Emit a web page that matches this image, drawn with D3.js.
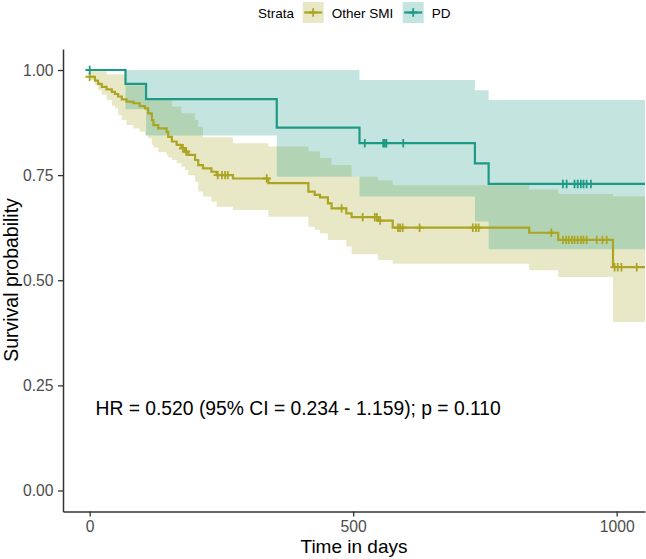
<!DOCTYPE html>
<html>
<head>
<meta charset="utf-8">
<script src="https://cdn.jsdelivr.net/npm/d3@7/dist/d3.min.js"></script>
<style>
  html, body { margin: 0; padding: 0; background: #fff; }
  svg { display: block; font-family: "Liberation Sans", Arial, Helvetica, sans-serif; }
</style>
</head>
<body>
<svg id="chart" width="646" height="559"></svg>
<script>
// ---------- DATA ----------
const strata = ["Other SMI", "PD"];
const strataColors = ["#ABA523", "#1C9A85"];

// Other SMI (olive)
const smiTime  = [0, 10, 16, 23, 32, 42, 48, 54, 61, 70, 83, 95, 105, 111, 118, 121, 130, 146, 149, 156,
                  165, 174, 181, 187, 200, 206, 215, 231, 241, 272, 339, 415, 427, 437, 452, 459, 487, 497, 547, 575,
                  834, 889, 993];
const smiSurv  = [0.984, 0.975, 0.967, 0.960, 0.954, 0.948, 0.943, 0.937, 0.930, 0.925, 0.921, 0.914, 0.909, 0.897, 0.881, 0.869, 0.861, 0.853, 0.841, 0.830,
                  0.822, 0.814, 0.806, 0.798, 0.786, 0.774, 0.766, 0.758, 0.750, 0.742, 0.731, 0.711, 0.703, 0.697, 0.683, 0.671, 0.659, 0.650, 0.642, 0.625,
                  0.613, 0.596, 0.531];
const smiUpper = [1.0, 1.0, 1.0, 1.0, 0.99, 0.99, 0.99, 0.99, 0.99, 0.964, 0.964, 0.964, 0.929, 0.929, 0.929, 0.929, 0.929, 0.929, 0.929, 0.913,
                  0.913, 0.897, 0.897, 0.897, 0.881, 0.865, 0.840, 0.840, 0.840, 0.826, 0.818, 0.807, 0.807, 0.791, 0.791, 0.774, 0.774, 0.746, 0.738, 0.726,
                  0.716, 0.705, 0.700];
const smiLower = [0.976, 0.964, 0.952, 0.941, 0.929, 0.915, 0.909, 0.893, 0.881, 0.869, 0.861, 0.853, 0.845, 0.838, 0.822, 0.816, 0.805, 0.798, 0.792, 0.786,
                  0.778, 0.770, 0.762, 0.750, 0.734, 0.711, 0.699, 0.687, 0.675, 0.667, 0.651, 0.627, 0.620, 0.612, 0.596, 0.596, 0.580, 0.562, 0.548, 0.539,
                  0.524, 0.508, 0.401];
const smiCensor = [0, 177, 183, 243, 251, 257, 262, 336, 478, 518, 541, 545, 551, 585, 589, 594, 626, 727, 733, 738,
                   876, 898, 904, 909, 915, 920, 926, 932, 937, 943, 962, 973, 981, 996, 1002, 1009, 1038];

// PD (teal)
const pdTime   = [0, 68, 107, 355, 512, 731, 757];
const pdSurv   = [1.0, 0.967, 0.931, 0.863, 0.826, 0.778, 0.729];
const pdUpper  = [1.0, 1.0, 1.0, 1.0, 0.976, 0.952, 0.929];
const pdLower  = [1.0, 0.907, 0.844, 0.746, 0.699, 0.640, 0.574];
const pdCensor = [0, 522, 557, 560, 563, 595, 898, 905, 920, 926, 932, 937, 943, 951];

const followUpEnd = 1060;

const xTicks = [0, 500, 1000];
const yTicks = [0, 0.25, 0.5, 0.75, 1.0];
const xTitle = "Time in days";
const yTitle = "Survival probability";
const legendTitle = "Strata";
const annotation = "HR = 0.520 (95% CI = 0.234 - 1.159); p = 0.110";

// ---------- LAYOUT ----------
const svg = d3.select("#chart");
const panel = { left: 63, right: 645, top: 49, bottom: 511.5 };

const x = d3.scaleLinear().domain([-50.6, 1053.7]).range([panel.left, panel.right]);
const y = d3.scaleLinear().domain([-0.05, 1.05]).range([panel.bottom, panel.top]);

svg.append("defs").append("clipPath").attr("id", "clip")
  .append("rect")
  .attr("x", panel.left).attr("y", panel.top - 5)
  .attr("width", panel.right - panel.left).attr("height", panel.bottom - panel.top + 5);

function buildSeries(time, surv, lo, hi) {
  const pts = time.map((t, i) => ({ t, s: surv[i], lo: lo[i], hi: hi[i] }));
  const last = pts[pts.length - 1];
  pts.push({ t: followUpEnd, s: last.s, lo: last.lo, hi: last.hi });
  return pts;
}
function survAt(time, surv, t) {
  const i = d3.bisectRight(time, t) - 1;
  return surv[Math.max(0, i)];
}

const series = [
  { name: strata[0], color: strataColors[0], pts: buildSeries(smiTime, smiSurv, smiLower, smiUpper),
    censor: smiCensor.map(t => ({ t, s: survAt(smiTime, smiSurv, t) })) },
  { name: strata[1], color: strataColors[1], pts: buildSeries(pdTime, pdSurv, pdLower, pdUpper),
    censor: pdCensor.map(t => ({ t, s: survAt(pdTime, pdSurv, t) })) }
];

const plotG = svg.append("g").attr("clip-path", "url(#clip)");

const area = d3.area().curve(d3.curveStepAfter)
  .x(d => x(d.t)).y0(d => y(d.lo)).y1(d => y(d.hi));
const line = d3.line().curve(d3.curveStepAfter)
  .x(d => x(d.t)).y(d => y(d.s));

// bands
series.forEach(s => {
  plotG.append("path").attr("d", area(s.pts))
    .attr("fill", s.color).attr("fill-opacity", 0.26).attr("stroke", "none");
});
// lines
series.forEach(s => {
  plotG.append("path").attr("d", line(s.pts))
    .attr("fill", "none").attr("stroke", s.color).attr("stroke-width", 2.2);
});
// censor marks
const cs = 4.2;
series.forEach(s => {
  const g = plotG.append("g").attr("stroke", s.color).attr("stroke-width", 1.8);
  g.selectAll("path").data(s.censor).join("path")
    .attr("d", d => `M${x(d.t) - cs},${y(d.s)}H${x(d.t) + cs}M${x(d.t)},${y(d.s) - cs}V${y(d.s) + cs}`);
});

// ---------- AXES ----------
const axisColor = "#333333";
const tickTextColor = "#4D4D4D";

const yAxis = svg.append("g").attr("transform", `translate(${panel.left},0)`)
  .call(d3.axisLeft(y).tickValues(yTicks).tickFormat(d3.format(".2f")).tickSize(5).tickSizeOuter(0).tickPadding(4.5));
const xAxis = svg.append("g").attr("transform", `translate(0,${panel.bottom})`)
  .call(d3.axisBottom(x).tickValues(xTicks).tickFormat(d3.format("d")).tickSize(5).tickSizeOuter(0).tickPadding(4.5));

[xAxis, yAxis].forEach(a => {
  a.attr("font-size", null).attr("font-family", null);
  a.select(".domain").attr("stroke", axisColor).attr("stroke-width", 1.5);
  a.selectAll(".tick line").attr("stroke", axisColor).attr("stroke-width", 1.3);
  a.selectAll(".tick text").attr("fill", tickTextColor).style("font-size", "15.7px");
});

svg.append("text").attr("x", 354).attr("y", 553).attr("text-anchor", "middle")
  .style("font-size", "19px").attr("fill", "#000").text(xTitle);
svg.append("text").attr("transform", "translate(18,280) rotate(-90)").attr("text-anchor", "middle")
  .style("font-size", "19.5px").attr("fill", "#000").text(yTitle);

// annotation
svg.append("text").attr("x", x(11)).attr("y", y(0.18))
  .style("font-size", "19.3px").attr("fill", "#000").text(annotation);

// ---------- LEGEND ----------
const legend = svg.append("g");
legend.append("text").attr("x", 258).attr("y", 17.8).style("font-size", "13.5px").attr("fill", "#000").text(legendTitle);
const keyX = [302.7, 402.7];
const labelX = [331.7, 431.7];
series.forEach((s, i) => {
  const g = legend.append("g").attr("transform", `translate(${keyX[i]},2)`);
  g.append("rect").attr("width", 21).attr("height", 21)
    .attr("fill", s.color).attr("fill-opacity", 0.26);
  g.append("path").attr("d", "M1.5,10.5H19.5").attr("stroke", s.color).attr("stroke-width", 2.2);
  g.append("path").attr("d", `M${10.5 - cs},10.5H${10.5 + cs}M10.5,${10.5 - cs}V${10.5 + cs}`)
    .attr("stroke", s.color).attr("stroke-width", 1.8);
  legend.append("text").attr("x", labelX[i]).attr("y", 17.8).style("font-size", "13.5px")
    .attr("fill", "#000").text(s.name);
});
</script>
</body>
</html>
